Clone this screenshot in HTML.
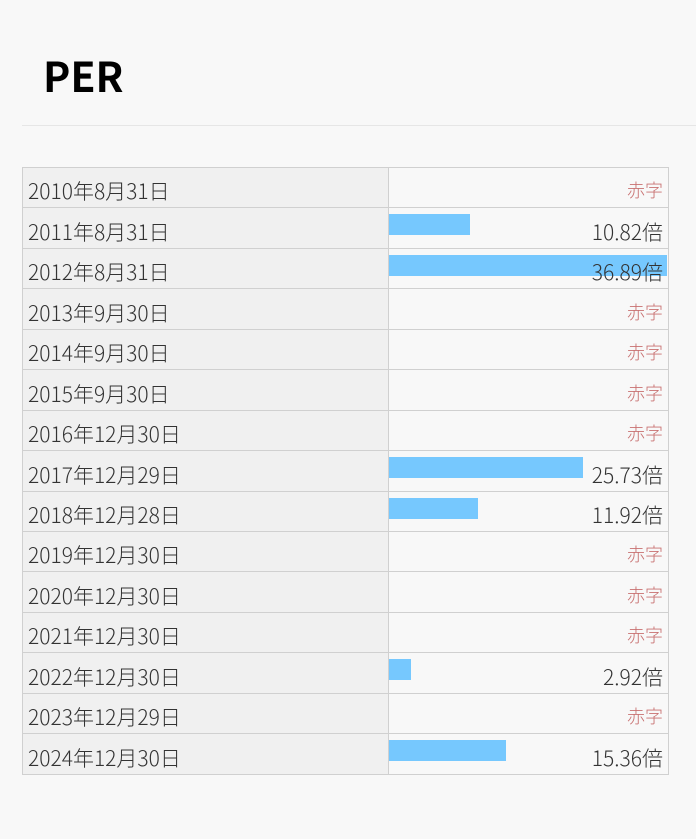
<!DOCTYPE html>
<html><head><meta charset="utf-8"><style>
body{margin:0;background:#f8f8f8;width:696px;height:839px;position:relative;font-family:"Noto Sans CJK JP","Liberation Sans",sans-serif;overflow:hidden}
h1{position:absolute;left:43px;top:49px;margin:0;font-size:41px;font-weight:bold;color:#000;line-height:50px}
.hr{position:absolute;left:22px;right:0;top:125px;height:1px;background:#e6e6e6}
.tbl{position:absolute;left:22px;top:167px;width:645px;border:1px solid #d0d0d0;border-bottom:none}
.row{position:relative;height:39.45px;border-bottom:1px solid #d0d0d0}
.l{position:absolute;left:0;top:0;width:365px;height:100%;background:#f0f0f0;border-right:1px solid #d0d0d0;font-size:21px;color:#333;font-weight:300}
.l span{position:absolute;left:5px;bottom:2px;line-height:28px}
.r{position:absolute;left:366px;right:0;top:0;height:100%;background:#f8f8f8}
.bar{position:absolute;left:0;top:6px;height:21px;background:#76c8fe}
.v{position:absolute;right:5px;bottom:2px;line-height:28px;font-size:21px;color:#333;font-weight:300}
.red{font-size:18px;color:#c87070;bottom:3px}
</style></head><body>
<h1>PER</h1><div class="hr"></div>
<div class="tbl">
<div class="row"><div class="l"><span>2010年8月31日</span></div><div class="r"><span class="v red">赤字</span></div></div>
<div class="row"><div class="l"><span>2011年8月31日</span></div><div class="r"><div class="bar" style="width:81px"></div><span class="v">10.82倍</span></div></div>
<div class="row"><div class="l"><span>2012年8月31日</span></div><div class="r"><div class="bar" style="width:278px"></div><span class="v">36.89倍</span></div></div>
<div class="row"><div class="l"><span>2013年9月30日</span></div><div class="r"><span class="v red">赤字</span></div></div>
<div class="row"><div class="l"><span>2014年9月30日</span></div><div class="r"><span class="v red">赤字</span></div></div>
<div class="row"><div class="l"><span>2015年9月30日</span></div><div class="r"><span class="v red">赤字</span></div></div>
<div class="row"><div class="l"><span>2016年12月30日</span></div><div class="r"><span class="v red">赤字</span></div></div>
<div class="row"><div class="l"><span>2017年12月29日</span></div><div class="r"><div class="bar" style="width:194px"></div><span class="v">25.73倍</span></div></div>
<div class="row"><div class="l"><span>2018年12月28日</span></div><div class="r"><div class="bar" style="width:89px"></div><span class="v">11.92倍</span></div></div>
<div class="row"><div class="l"><span>2019年12月30日</span></div><div class="r"><span class="v red">赤字</span></div></div>
<div class="row"><div class="l"><span>2020年12月30日</span></div><div class="r"><span class="v red">赤字</span></div></div>
<div class="row"><div class="l"><span>2021年12月30日</span></div><div class="r"><span class="v red">赤字</span></div></div>
<div class="row"><div class="l"><span>2022年12月30日</span></div><div class="r"><div class="bar" style="width:22px"></div><span class="v">2.92倍</span></div></div>
<div class="row"><div class="l"><span>2023年12月29日</span></div><div class="r"><span class="v red">赤字</span></div></div>
<div class="row"><div class="l"><span>2024年12月30日</span></div><div class="r"><div class="bar" style="width:117px"></div><span class="v">15.36倍</span></div></div>
</div>
</body></html>
